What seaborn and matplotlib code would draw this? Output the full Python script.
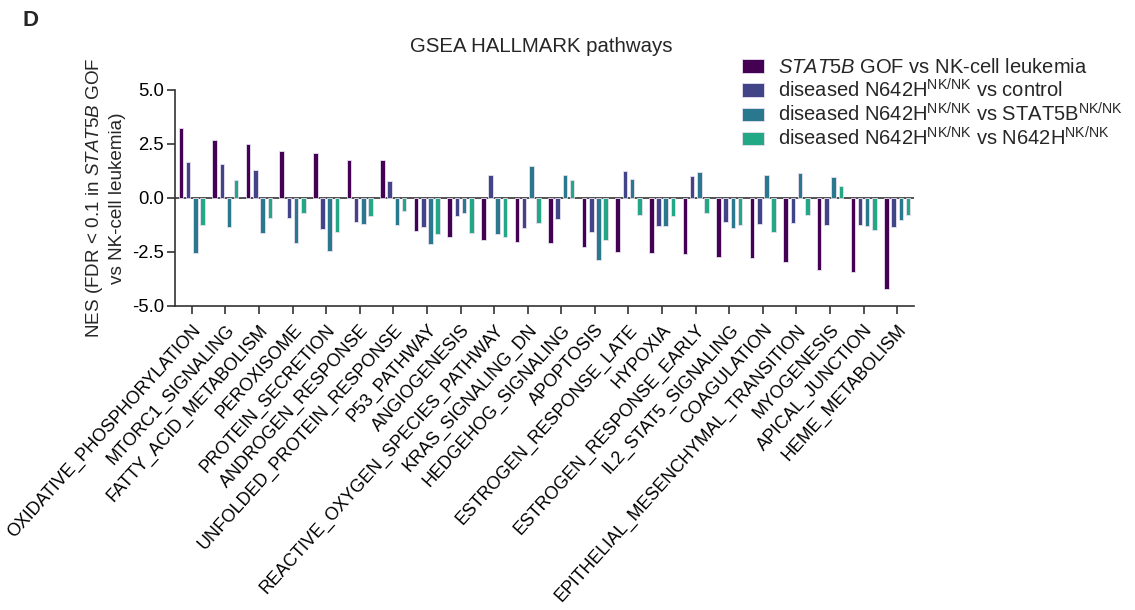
import matplotlib
matplotlib.use("Agg")
import matplotlib.pyplot as plt
import seaborn as sns
import pandas as pd

pathways = [
    "OXIDATIVE_PHOSPHORYLATION", "MTORC1_SIGNALING", "FATTY_ACID_METABOLISM",
    "PEROXISOME", "PROTEIN_SECRETION", "ANDROGEN_RESPONSE",
    "UNFOLDED_PROTEIN_RESPONSE", "P53_PATHWAY", "ANGIOGENESIS",
    "REACTIVE_OXYGEN_SPECIES_PATHWAY", "KRAS_SIGNALING_DN", "HEDGEHOG_SIGNALING",
    "APOPTOSIS", "ESTROGEN_RESPONSE_LATE", "HYPOXIA", "ESTROGEN_RESPONSE_EARLY",
    "IL2_STAT5_SIGNALING", "COAGULATION", "EPITHELIAL_MESENCHYMAL_TRANSITION",
    "MYOGENESIS", "APICAL_JUNCTION", "HEME_METABOLISM",
]

stat5b_gof_vs_nk = [3.24, 2.70, 2.48, 2.18, 2.08, 1.77, 1.77, -1.54, -1.79, -1.94,
                    -2.02, -2.08, -2.25, -2.50, -2.55, -2.59, -2.72, -2.76, -2.95,
                    -3.35, -3.41, -4.21]
n642h_vs_control = [1.67, 1.57, 1.31, -0.93, -1.42, -1.13, 0.79, -1.33, -0.83, 1.06,
                    -1.37, -0.97, -1.57, 1.23, -1.30, 1.00, -1.13, -1.19, -1.16,
                    -1.25, -1.27, -1.34]
n642h_vs_stat5b = [-2.56, -1.33, -1.64, -2.10, -2.47, -1.20, -1.25, -2.15, -0.68, -1.67,
                   1.48, 1.08, -2.89, 0.90, -1.31, 1.20, -1.37, 1.08, 1.14,
                   0.96, -1.30, -1.02]
n642h_vs_n642h = [-1.27, 0.83, -0.93, -0.71, -1.57, -0.83, -0.62, -1.68, -1.60, -1.81,
                  -1.17, 0.85, -1.93, -0.80, -0.83, -0.71, -1.25, -1.56, -0.80,
                  0.54, -1.47, -0.80]

series_labels = [
    r"$\it{STAT5B}$ GOF vs NK-cell leukemia",
    r"diseased N642H$^{\mathrm{NK/NK}}$ vs control",
    r"diseased N642H$^{\mathrm{NK/NK}}$ vs STAT5B$^{\mathrm{NK/NK}}$",
    r"diseased N642H$^{\mathrm{NK/NK}}$ vs N642H$^{\mathrm{NK/NK}}$",
]
series_values = [stat5b_gof_vs_nk, n642h_vs_control, n642h_vs_stat5b, n642h_vs_n642h]
colors = ["#440154", "#414487", "#2A788E", "#22A884"]

rows = []
for lab, vals in zip(series_labels, series_values):
    for p, v in zip(pathways, vals):
        rows.append({"pathway": p, "NES": v, "comparison": lab})
df = pd.DataFrame(rows)

sns.set_style("ticks")
plt.rcParams["font.family"] = ["Liberation Sans", "DejaVu Sans"]
plt.rcParams["mathtext.fontset"] = "custom"
plt.rcParams["mathtext.rm"] = "Liberation Sans"
plt.rcParams["mathtext.it"] = "Liberation Sans:italic"
plt.rcParams["mathtext.bf"] = "Liberation Sans:bold"

fig = plt.figure(figsize=(11.35, 6.10), dpi=100)
ax = fig.add_axes([175 / 1135, 1 - 306 / 610, (914 - 175) / 1135, (306 - 90) / 610])

sns.barplot(data=df, x="pathway", y="NES", hue="comparison", order=pathways,
            hue_order=series_labels, palette=colors, saturation=1, width=0.86,
            gap=0.37, edgecolor="#e8e0f0", linewidth=0.6, ax=ax, legend=True)

ax.set_ylim(-5, 5)
ax.set_xlim(-0.5, len(pathways) - 0.5)
ax.set_yticks([-5, -2.5, 0, 2.5, 5])
ax.set_yticklabels(["-5.0", "-2.5", "0.0", "2.5", "5.0"])
ax.axhline(0, color="#333333", lw=1.2, zorder=0.5)
for s in ["top", "right"]:
    ax.spines[s].set_visible(False)
for s in ["left", "bottom"]:
    ax.spines[s].set_color("#333333")
    ax.spines[s].set_linewidth(1.2)
ax.tick_params(axis="both", colors="#333333", width=1.2, length=6, labelcolor="black")
ax.tick_params(axis="y", labelsize=13.3, pad=2)
ax.tick_params(axis="x", labelsize=12.8, pad=5)
ax.set_xlabel("")
ax.set_ylabel("NES (FDR < 0.1 in $\\it{STAT5B}$ GOF\nvs NK-cell leukemia)", fontsize=13.6,
              linespacing=1.3, labelpad=4)
for lbl in ax.get_xticklabels():
    lbl.set_rotation(48)
    lbl.set_ha("right")
    lbl.set_rotation_mode("anchor")

handles, labels = ax.get_legend_handles_labels()
ax.legend_.remove()
fig.legend(handles, labels, loc="upper left", bbox_to_anchor=(742 / 1135, 1 - 58 / 610),
           frameon=False, fontsize=14.5, handlelength=1.1, handleheight=0.65,
           handletextpad=0.7, labelspacing=0.05, borderaxespad=0, borderpad=0)

fig.text(541 / 1135, 1 - 47 / 610, "GSEA HALLMARK pathways", ha="center", va="center",
         fontsize=14.7)
fig.text(30 / 1135, 1 - 21 / 610, "D", ha="center", va="center", fontsize=16,
         fontweight="bold")

fig.savefig("out.png", dpi=100)
